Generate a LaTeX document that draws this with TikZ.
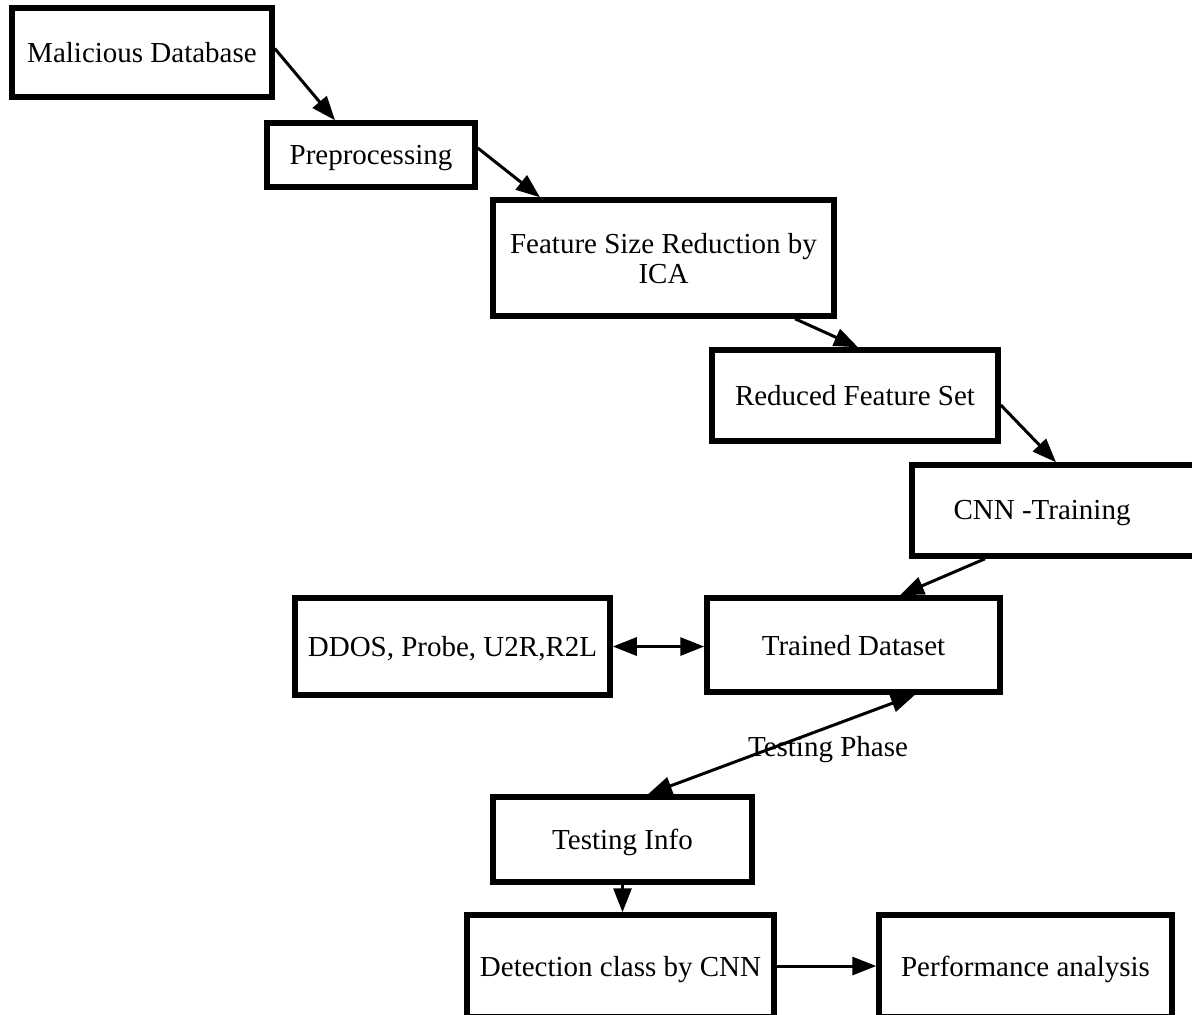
\documentclass[tikz,border=0pt]{standalone}
\usepackage{fontspec}
\setmainfont{Liberation Serif}
\usetikzlibrary{arrows.meta}
\begin{document}
\begin{tikzpicture}[x=0.5pt,y=-0.5pt,
  box/.style={draw=black, line width=2.75pt, fill=white, inner sep=0pt, align=center,
    text depth=0pt, font=\fontsize{14.5}{15}\selectfont},
  conn/.style={line width=1.5pt, -{Triangle[length=12pt,width=9pt]}},
  bconn/.style={line width=1.5pt, {Triangle[length=12pt,width=9pt]}-{Triangle[length=12pt,width=9pt]}},
  lbl/.style={font=\fontsize{14.5}{15}\selectfont, inner sep=0pt}]
\path[use as bounding box] (0,0) rectangle (1192,1014);
\clip (0,0) rectangle (1192,1014);
\node[box, minimum width=130pt, minimum height=44.5pt] (mal) at (142,52.5) {Malicious Database};
\node[box, minimum width=104pt, minimum height=32pt] (pre) at (371,155) {Preprocessing};
\node[box, minimum width=170.5pt, minimum height=58pt] (fsr) at (663.5,258) {Feature Size Reduction by\\ICA};
\node[box, minimum width=143pt, minimum height=45.5pt] (red) at (855,395.5) {Reduced Feature Set};
\node[box, minimum width=144pt, minimum height=45.5pt] (cnn) at (1056,510.5) {};
\node[lbl] (cnnt) at (1042,513) {CNN -Training};
\node[box, minimum width=157.5pt, minimum height=48.5pt] (ddos) at (452.5,646.5) {DDOS, Probe, U2R,R2L};
\node[box, minimum width=146.5pt, minimum height=47pt] (trn) at (853.5,645) {Trained Dataset};
\node[box, minimum width=129.5pt, minimum height=42.5pt] (ti) at (622.5,839.5) {Testing Info};
\node[box, minimum width=153.5pt, minimum height=51pt] (det) at (620.5,966) {Detection class by CNN};
\node[box, minimum width=146.5pt, minimum height=51pt] (perf) at (1025.5,966) {Performance analysis};

\draw[conn] ([yshift=2pt]mal.east) -- ([xshift=-18pt]pre.north);
\draw[conn] ([yshift=3.5pt]pre.east) -- ([xshift=-61.75pt]fsr.north);
\draw[conn] ([xshift=65.75pt]fsr.south) -- ([xshift=1.5pt]red.north);
\draw[conn] ([yshift=-4.75pt]red.east) -- (cnn.north);
\draw[conn] ([xshift=-35.5pt]cnn.south) -- ([xshift=23.25pt]trn.north);
\draw[bconn] (ddos.east) -- (ddos.east -| trn.west);
\draw[bconn] ([xshift=12.75pt]ti.north) -- node[lbl, pos=0.674, yshift=-11pt] (tp) {Testing Phase} ([xshift=30.75pt]trn.south);
\draw[conn] (ti.south) -- (ti.south |- det.north);
\draw[conn] (det.east) -- (det.east -| perf.west);
\end{tikzpicture}
\end{document}
